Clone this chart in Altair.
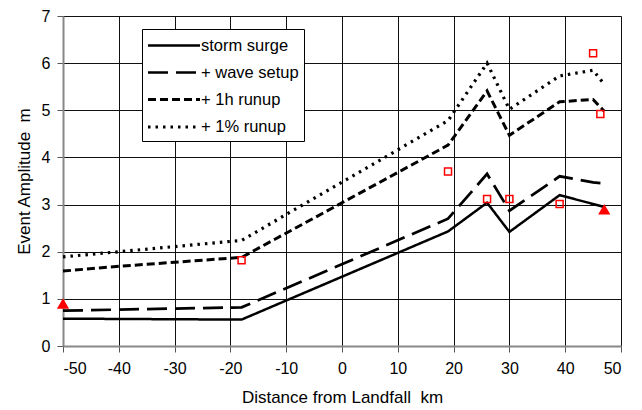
import altair as alt
import pandas as pd

series_names = ["storm surge", "+ wave setup", "+ 1h runup", "+ 1% runup"]

surge_x = [-50, -18, 19, 26, 30, 39, 47]
surge_y = [0.58, 0.56, 2.43, 3.04, 2.42, 3.20, 2.95]

setup_x = [-50, -18, 19, 26, 30, 39, 45, 47]
setup_y = [0.75, 0.82, 2.70, 3.65, 2.87, 3.60, 3.47, 3.45]

runup1h_x = [-50, -40, -18, 19, 26, 30, 39, 45, 47]
runup1h_y = [1.59, 1.69, 1.88, 4.26, 5.41, 4.47, 5.18, 5.23, 4.98]

runup1p_x = [-50, -40, -18, 19, 26, 30, 39, 45, 47]
runup1p_y = [1.89, 2.00, 2.24, 4.78, 6.00, 5.02, 5.73, 5.85, 5.55]

obs_x = [-18, 19, 26, 30, 39, 45, 46.3]
obs_y = [1.82, 3.70, 3.12, 3.12, 3.01, 6.21, 4.92]

tri_x = [-50, 47]
tri_y = [0.90, 2.90]

x_ticks = list(range(-50, 51, 10))
y_ticks = list(range(0, 8))

rows = []
for name, xs, ys in [
    (series_names[0], surge_x, surge_y),
    (series_names[1], setup_x, setup_y),
    (series_names[2], runup1h_x, runup1h_y),
    (series_names[3], runup1p_x, runup1p_y),
]:
    for i, (a, b) in enumerate(zip(xs, ys)):
        rows.append({"series": name, "x": a, "y": b, "order": i})
lines_df = pd.DataFrame(rows)
obs_df = pd.DataFrame({"x": obs_x, "y": obs_y})
tri_df = pd.DataFrame({"x": tri_x, "y": tri_y})

FONT = "Liberation Sans"

xscale = alt.Scale(domain=[-50, 50], nice=False, zero=False)
yscale = alt.Scale(domain=[0, 7], nice=False, zero=True)

xaxis = alt.Axis(values=x_ticks, title="Distance from Landfall \u00a0km", grid=True,
                 labelExpr="'' + datum.value",
                 gridColor="#111", gridWidth=1, domainColor="#888", domainWidth=2,
                 tickColor="#555", tickSize=6, labelFontSize=16, labelFont=FONT,
                 labelColor="black", labelPadding=8, titleFont=FONT, titleFontSize=17,
                 titleFontWeight="normal", titleColor="black", titlePadding=13)
yaxis = alt.Axis(values=y_ticks, title="Event Amplitude \u00a0m", grid=True,
                 labelExpr="'' + datum.value",
                 gridColor="#111", gridWidth=1, domainColor="#888", domainWidth=2,
                 tickColor="#555", tickSize=6, labelFontSize=16, labelFont=FONT,
                 labelColor="black", labelPadding=7, titleFont=FONT, titleFontSize=17,
                 titleFontWeight="normal", titleColor="black", titlePadding=8)

legend = alt.Legend(orient="none", legendX=79, legendY=13, title=None,
                    symbolType="M-2.6,0H2.6", symbolSize=400, symbolStrokeColor="black",
                    labelFontSize=16.5, labelFont=FONT, labelColor="black",
                    fillColor="white", strokeColor="black", padding=5,
                    rowPadding=7, labelOffset=15, symbolOffset=15)

lines = alt.Chart(lines_df).mark_line(color="black").encode(
    x=alt.X("x:Q", scale=xscale, axis=xaxis),
    y=alt.Y("y:Q", scale=yscale, axis=yaxis),
    order="order:Q",
    strokeDash=alt.StrokeDash("series:N", sort=series_names,
                              scale=alt.Scale(domain=series_names,
                                              range=[[1, 0], [20, 8], [8, 4], [2.5, 5]]),
                              legend=legend),
    strokeWidth=alt.StrokeWidth("series:N", sort=series_names,
                                scale=alt.Scale(domain=series_names, range=[2.5, 3.2, 1.6, 2.2]),
                                legend=legend),
)

squares = alt.Chart(obs_df).mark_point(shape="square", color="red", filled=False,
                                       size=49, strokeWidth=1.5, opacity=1).encode(
    x=alt.X("x:Q", scale=xscale), y=alt.Y("y:Q", scale=yscale))

tris = alt.Chart(tri_df).mark_point(shape="triangle-up", color="red", filled=True,
                                    size=150, opacity=1).encode(
    x=alt.X("x:Q", scale=xscale), y=alt.Y("y:Q", scale=yscale))

chart = alt.layer(lines, squares, tris).properties(
    width=558, height=330,
    autosize=alt.AutoSizeParams(type="none"),
    padding={"left": 55, "top": 8, "right": 13, "bottom": 62},
).configure_view(stroke="#999", strokeWidth=2).configure(background="white")

chart.save("out.html", embed_options={"renderer": "svg", "actions": False})
